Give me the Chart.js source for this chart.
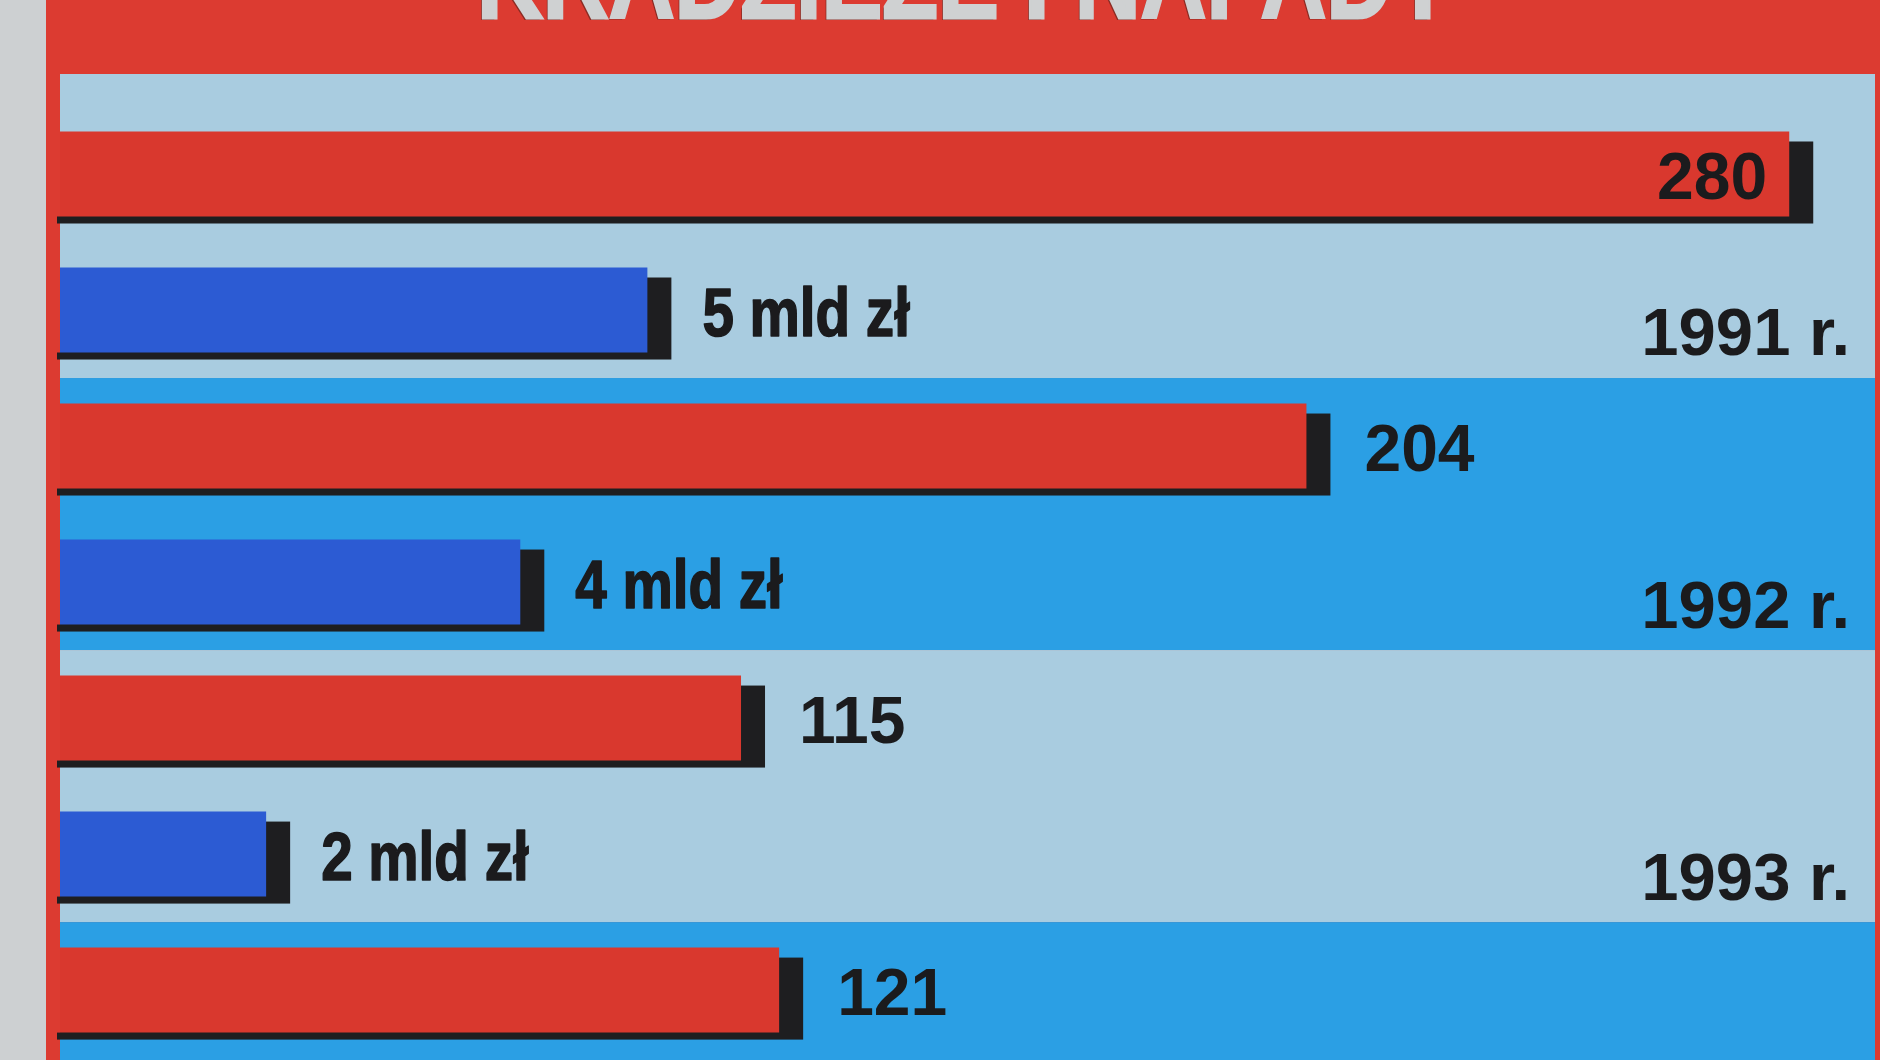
<!DOCTYPE html>
<html>
<head>
<meta charset="utf-8">
<script src="https://cdn.jsdelivr.net/npm/chart.js@4.4.1/dist/chart.umd.min.js"></script>
<style>
  html, body { margin: 0; padding: 0; overflow: hidden; background: #cdd0d2; }
  canvas { display: block; }
</style>
</head>
<body>
<canvas id="c" width="1880" height="1060"></canvas>
<script>
// ---- data ----
const chartTitle = 'KRADZIEŻE I NAPADY';
const years = ['1991 r.', '1992 r.', '1993 r.', '1994 r.'];
const incidents = [280, 204, 115, 121];      // red bars (number of cases)
const lossesBn = [5, 4, 2, null];            // blue bars, losses in mld zł (1994 cut off)
const lossUnit = 'mld zł';

const FONT = "'Liberation Sans', Arial, sans-serif";

const backdrop = {
  id: 'backdrop',
  beforeDraw(chart) {
    const { ctx, chartArea: a, scales: { y } } = chart;
    ctx.save();
    ctx.fillStyle = '#cdd0d2';
    ctx.fillRect(0, 0, chart.width, chart.height);
    ctx.fillStyle = '#dc3b31';
    ctx.fillRect(46, 0, chart.width - 46, chart.height);
    years.forEach((_, i) => {
      const top = i === 0 ? a.top : y.getPixelForValue(i - 0.5);
      const bot = Math.min(a.bottom, y.getPixelForValue(i + 0.5));
      if (bot <= top) return;
      ctx.fillStyle = i % 2 ? '#2b9fe4' : '#a9cce0';
      ctx.fillRect(a.left, top, a.right - a.left, bot - top);
    });
    ctx.font = 'bold 112px ' + FONT;
    ctx.textAlign = 'center';
    ctx.textBaseline = 'alphabetic';
    ctx.fillStyle = '#8a2c24';
    ctx.fillText(chartTitle, 963, 20, 976);
    ctx.fillStyle = '#cfd1d2';
    ctx.strokeStyle = '#cfd1d2';
    ctx.lineWidth = 3;
    ctx.fillText(chartTitle, 965, 18, 976);
    ctx.strokeText(chartTitle, 965, 18, 976);
    ctx.restore();
  }
};

const barShadows = {
  id: 'barShadows',
  beforeDatasetsDraw(chart) {
    const { ctx, chartArea: a } = chart;
    ctx.save();
    ctx.fillStyle = '#1e1e20';
    chart.data.datasets.forEach((ds, di) => {
      chart.getDatasetMeta(di).data.forEach((bar, i) => {
        if (ds.data[i].x == null) return;
        const { x, y, height } = bar.getProps(['x', 'y', 'height'], true);
        const top = y - height / 2 + 10;
        const bottom = y + height / 2 + 7;
        ctx.fillRect(a.left, top, x + 24 - a.left, bottom - top);
        ctx.fillRect(a.left - 3, y + height / 2, 3, 7);
      });
    });
    ctx.restore();
  }
};

const barValues = {
  id: 'barValues',
  afterDatasetsDraw(chart) {
    const { ctx, chartArea: a } = chart;
    ctx.save();
    ctx.fillStyle = '#1b1b1d';
    ctx.strokeStyle = '#1b1b1d';
    ctx.lineJoin = 'round';
    ctx.textBaseline = 'middle';
    chart.data.datasets.forEach((ds, di) => {
      chart.getDatasetMeta(di).data.forEach((bar, i) => {
        if (ds.data[i].x == null) return;
        const { x, y } = bar.getProps(['x', 'y'], true);
        let text, squeeze, gap, stroke;
        if (di === 0) { text = String(incidents[i]); ctx.font = 'bold 66px ' + FONT; squeeze = 1; gap = 58; stroke = 0; }
        else { text = lossesBn[i] + ' ' + lossUnit; ctx.font = 'bold 69px ' + FONT; squeeze = 0.82; gap = 55; stroke = 1.6; }
        const w = ctx.measureText(text).width * squeeze;
        let tx;
        if (x + gap + w > a.right - 20) { ctx.textAlign = 'right'; tx = x - 22; }
        else { ctx.textAlign = 'left'; tx = x + gap; }
        ctx.fillText(text, tx, y + 7, w);
        if (stroke) { ctx.lineWidth = stroke; ctx.strokeText(text, tx, y + 7, w); }
      });
    });
    ctx.restore();
  }
};

new Chart(document.getElementById('c'), {
  type: 'bar',
  data: {
    datasets: [
      {
        label: 'Kradzieże i napady',
        data: incidents.map((v, i) => ({ x: v, y: i })),
        xAxisID: 'xCount',
        backgroundColor: '#d9382e',
        categoryPercentage: 1,
        barPercentage: 0.625
      },
      {
        label: 'Straty (mld zł)',
        data: lossesBn.map((v, i) => ({ x: v, y: i })),
        xAxisID: 'xLoss',
        backgroundColor: '#2c5bd3',
        categoryPercentage: 1,
        barPercentage: 0.625
      }
    ]
  },
  options: {
    indexAxis: 'y',
    responsive: false,
    animation: false,
    layout: { padding: { left: 60, right: 5, top: 74, bottom: 0 } },
    plugins: { legend: { display: false }, tooltip: { enabled: false }, title: { display: false } },
    scales: {
      xCount: { type: 'linear', axis: 'x', position: 'bottom', display: false, min: 7.8, max: 293.5 },
      xLoss: { type: 'linear', axis: 'x', position: 'top', display: false, min: 0.378, max: 14.66 },
      y: {
        type: 'linear',
        position: 'right',
        reverse: true,
        offset: false,
        min: -0.6176,
        max: 3.007,
        grid: { display: false, drawTicks: false, offset: false },
        border: { display: false },
        afterBuildTicks: (s) => { s.ticks = years.map((_, i) => ({ value: i })); },
        afterFit: (s) => { s.width = 0; s.paddingTop = 0; s.paddingBottom = 0; },
        ticks: {
          mirror: true,
          autoSkip: false,
          padding: -25,
          labelOffset: 95,
          color: '#1b1b1d',
          font: { family: FONT, weight: 'bold', size: 67 },
          callback: (v) => years[v]
        }
      }
    }
  },
  plugins: [backdrop, barShadows, barValues]
});
</script>
</body>
</html>
